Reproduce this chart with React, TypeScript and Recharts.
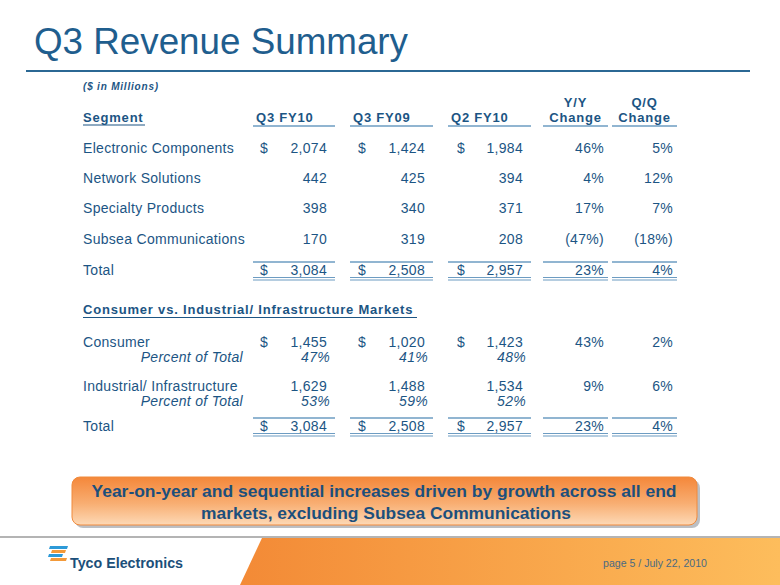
import { Surface, Layer, Text } from "recharts"

// segment table
const segments = ["Electronic Components", "Network Solutions", "Specialty Products", "Subsea Communications"]
const q3fy10 = [2074, 442, 398, 170]
const q3fy09 = [1424, 425, 340, 319]
const q2fy10 = [1984, 394, 371, 208]
const yoyChange = [46, 4, 17, -47]
const qoqChange = [5, 12, 7, -18]
const segmentTotals = [3084, 2508, 2957]
const totalChanges = [23, 4]

// markets table
const markets = ["Consumer", "Industrial/ Infrastructure"]
const consumerValues = [1455, 1020, 1423]
const consumerPercent = [47, 41, 48]
const consumerChanges = [43, 2]
const industrialValues = [1629, 1488, 1534]
const industrialPercent = [53, 59, 52]
const industrialChanges = [9, 6]
const marketTotals = [3084, 2508, 2957]
const marketTotalChanges = [23, 4]

const columnHeaders = ["Q3 FY10", "Q3 FY09", "Q2 FY10"]
const changeHeaders = ["Y/Y", "Q/Q"]

const TEXT = "#1c5584"
const RULE = "#6d9cc2"
const FONT = "'Liberation Sans', Arial, sans-serif"

const cols = [
  { x0: 253, x1: 335, dollar: 260, right: 327 },
  { x0: 350, x1: 433, dollar: 358, right: 425 },
  { x0: 448, x1: 531, dollar: 457, right: 523 },
  { x0: 543, x1: 608, right: 604 },
  { x0: 612, x1: 677, right: 673 }
]

const segRowY = [153, 183, 213, 244]

function money(v: number) {
  return v.toLocaleString("en-US")
}

function pct(v: number) {
  return v < 0 ? `(${Math.abs(v)}%)` : `${v}%`
}

function Cell({ x, y, children, anchor = "start", bold = false, italic = false, size = 14, fill = TEXT, spacing = 0.3 }: any) {
  return (
    <Text
      x={x}
      y={y}
      textAnchor={anchor}
      fontFamily={FONT}
      fontSize={size}
      fontWeight={bold ? 700 : 400}
      fontStyle={italic ? "italic" : "normal"}
      letterSpacing={spacing}
      fill={fill}
    >
      {children}
    </Text>
  )
}

function ValueRow({ y, label, values, changes, labelItalic = false }: any) {
  return (
    <Layer>
      <Cell x={83} y={y}>{label}</Cell>
      {values.map((v: number, i: number) => (
        <Cell key={i} x={cols[i].right} y={y} anchor="end">{money(v)}</Cell>
      ))}
      {changes.map((v: number, i: number) => (
        <Cell key={"c" + i} x={cols[i + 3].right} y={y} anchor="end">{pct(v)}</Cell>
      ))}
    </Layer>
  )
}

function DollarSigns({ y }: { y: number }) {
  return (
    <Layer>
      {[0, 1, 2].map((i) => (
        <Cell key={i} x={cols[i].dollar} y={y}>$</Cell>
      ))}
    </Layer>
  )
}

function TotalRow({ y, values, changes }: any) {
  return (
    <Layer>
      {cols.map((c, i) => (
        <g key={i}>
          <line x1={c.x0} x2={c.x1} y1={y - 13} y2={y - 13} stroke={RULE} strokeWidth={1.5} />
          <line x1={c.x0} x2={c.x1} y1={y + 2.5} y2={y + 2.5} stroke={RULE} strokeWidth={1.2} />
          <line x1={c.x0} x2={c.x1} y1={y + 5} y2={y + 5} stroke={RULE} strokeWidth={1.2} />
        </g>
      ))}
      <DollarSigns y={y} />
      <ValueRow y={y} label="Total" values={values} changes={changes} />
    </Layer>
  )
}

function PercentRow({ y, values }: any) {
  return (
    <Layer>
      <Cell x={243} y={y} anchor="end" italic>Percent of Total</Cell>
      {values.map((v: number, i: number) => (
        <Cell key={i} x={cols[i].right + 3} y={y} anchor="end" italic>{`${v}%`}</Cell>
      ))}
    </Layer>
  )
}

export default function App() {
  return (
    <div style={{ position: "absolute", left: 0, top: 0, width: 780, height: 585, background: "#ffffff" }}>
      <Surface width={780} height={585} viewBox={{ x: 0, y: 0, width: 780, height: 585 }}>
        <defs>
          <linearGradient id="boxFill" x1="0" y1="0" x2="0" y2="1">
            <stop offset="0%" stopColor="#f4873a" />
            <stop offset="55%" stopColor="#f8ae72" />
            <stop offset="100%" stopColor="#fdd9b6" />
          </linearGradient>
          <linearGradient id="footFill" x1="0" y1="0" x2="1" y2="0">
            <stop offset="0%" stopColor="#f38a36" />
            <stop offset="100%" stopColor="#fdbd5c" />
          </linearGradient>
        </defs>

        {/* title */}
        <text x={34} y={54} fontFamily={FONT} fontSize={37} fill="#1f5e8e" textLength={374} lengthAdjust="spacingAndGlyphs">
          Q3 Revenue Summary
        </text>
        <line x1={26} x2={750} y1={71} y2={71} stroke="#2b6894" strokeWidth={2} />

        <Cell x={83} y={90} size={10} bold italic spacing={0.8}>($ in Millions)</Cell>

        {/* header */}
        <Cell x={83} y={121.5} size={13} bold spacing={0.8}>Segment</Cell>
        <line x1={83} x2={145} y1={125} y2={125} stroke={TEXT} strokeWidth={1.2} />
        {columnHeaders.map((h, i) => (
          <Cell key={h} x={cols[i].x0 + 3} y={121.5} size={13} bold spacing={0.8}>{h}</Cell>
        ))}
        {changeHeaders.map((h, i) => (
          <Layer key={h}>
            <Cell x={(cols[i + 3].x0 + cols[i + 3].x1) / 2} y={107} anchor="middle" size={13} bold spacing={0.8}>{h}</Cell>
            <Cell x={(cols[i + 3].x0 + cols[i + 3].x1) / 2} y={121.5} anchor="middle" size={13} bold spacing={0.8}>Change</Cell>
          </Layer>
        ))}
        {cols.map((c, i) => (
          <line key={i} x1={c.x0} x2={c.x1} y1={126} y2={126} stroke={RULE} strokeWidth={1.5} />
        ))}

        {/* segment rows */}
        <DollarSigns y={segRowY[0]} />
        {segments.map((s, i) => (
          <ValueRow
            key={s}
            y={segRowY[i]}
            label={s}
            values={[q3fy10[i], q3fy09[i], q2fy10[i]]}
            changes={[yoyChange[i], qoqChange[i]]}
          />
        ))}
        <TotalRow y={275} values={segmentTotals} changes={totalChanges} />

        {/* markets */}
        <Cell x={83} y={314} size={13} bold spacing={0.8}>Consumer vs. Industrial/ Infrastructure Markets</Cell>
        <line x1={83} x2={417} y1={317.5} y2={317.5} stroke={TEXT} strokeWidth={1.2} />

        <DollarSigns y={347} />
        <ValueRow y={347} label={markets[0]} values={consumerValues} changes={consumerChanges} />
        <PercentRow y={362} values={consumerPercent} />
        <ValueRow y={391} label={markets[1]} values={industrialValues} changes={industrialChanges} />
        <PercentRow y={406} values={industrialPercent} />
        <TotalRow y={431} values={marketTotals} changes={marketTotalChanges} />

        {/* callout */}
        <rect x={75} y={480} width={625} height={48} rx={8} fill="#9ea4ab" opacity={0.7} />
        <rect x={72} y={477} width={625} height={48} rx={8} fill="url(#boxFill)" stroke="#f08a3c" strokeWidth={1} />
        <text x={384} y={497} textAnchor="middle" fontFamily={FONT} fontSize={17} fontWeight={700} fill="#1c4f7c" textLength={585} lengthAdjust="spacingAndGlyphs">
          Year-on-year and sequential increases driven by growth across all end
        </text>
        <text x={386} y={519} textAnchor="middle" fontFamily={FONT} fontSize={17} fontWeight={700} fill="#1c4f7c" textLength={370} lengthAdjust="spacingAndGlyphs">
          markets, excluding Subsea Communications
        </text>

        {/* footer */}
        <line x1={0} x2={780} y1={537} y2={537} stroke="#b4b4b4" strokeWidth={2} />
        <polygon points="262,538 780,538 780,585 240,585" fill="url(#footFill)" />
        <polygon points="50,546 68,546 67,549 49,549" fill="#2d9ad8" />
        <polygon points="52,550 66,550 65,553 51,553" fill="#f39a3a" />
        <polygon points="49,554 63,554 62,557 48,557" fill="#2d9ad8" />
        <polygon points="51,558 67,558 66,561 50,561" fill="#f39a3a" />
        <text x={70} y={568} fontFamily={FONT} fontSize={14} fontWeight={700} fill="#1b4f7a" textLength={113} lengthAdjust="spacingAndGlyphs">
          Tyco Electronics
        </text>
        <text x={603} y={567} fontFamily={FONT} fontSize={11} fill="#4a6a82" textLength={104} lengthAdjust="spacingAndGlyphs">
          page 5 / July 22, 2010
        </text>
      </Surface>
    </div>
  )
}
